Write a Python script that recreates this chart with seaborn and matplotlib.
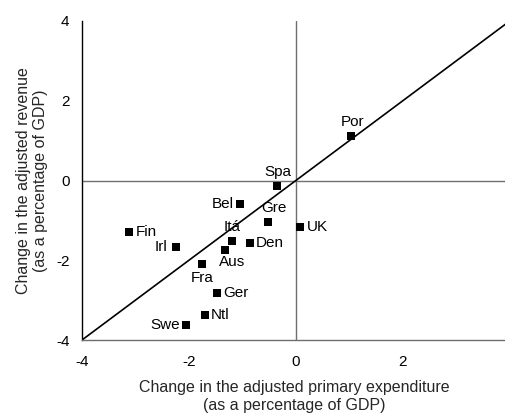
import matplotlib
matplotlib.use("Agg")
import matplotlib.pyplot as plt
import seaborn as sns
import pandas as pd

# Change in adjusted primary expenditure (x) and adjusted revenue (y), % of GDP
countries = ["Por", "Spa", "Bel", "Gre", "UK", "Fin", "Itá", "Den",
             "Irl", "Aus", "Fra", "Ger", "Ntl", "Swe"]
expenditure = [1.04, -0.36, -1.04, -0.52, 0.08, -3.12, -1.19, -0.85,
               -2.24, -1.32, -1.76, -1.47, -1.70, -2.06]
revenue = [1.12, -0.13, -0.58, -1.03, -1.16, -1.28, -1.51, -1.56,
           -1.68, -1.74, -2.09, -2.81, -3.37, -3.63]
ticks = [-4, -2, 0, 2, 4]

df = pd.DataFrame({"country": countries, "exp": expenditure, "rev": revenue})

# label placement: offset in points, horizontal / vertical alignment
label_pos = {
    "Por": (1, 5, "center", "bottom"),
    "Spa": (1, 5, "center", "bottom"),
    "Bel": (-5, 0, "right", "center"),
    "Gre": (4, 5, "center", "bottom"),
    "UK": (5, 0, "left", "center"),
    "Fin": (5, 0, "left", "center"),
    "Itá": (0, 5, "center", "bottom"),
    "Den": (4, 0, "left", "center"),
    "Irl": (-6, 0, "right", "center"),
    "Aus": (5, -4, "center", "top"),
    "Fra": (0, -5, "center", "top"),
    "Ger": (4, 0, "left", "center"),
    "Ntl": (4, 0, "left", "center"),
    "Swe": (-4, 0, "right", "center"),
}

sns.set_style("white")
plt.rcParams["font.family"] = ["Liberation Sans", "DejaVu Sans"]

fig = plt.figure(figsize=(5.06, 4.16), dpi=100)
ax = fig.add_axes([82 / 506, 1 - 340 / 416, 1 - 82 / 506, (340 - 21) / 416])

xmin, xmax = -4, 3.93
ymin, ymax = -4, 4

# reference lines through the origin
ax.axhline(0, color="#6e6e6e", lw=1.0, zorder=1)
ax.axvline(0, color="#6e6e6e", lw=1.0, zorder=1)
# 45-degree line
ax.plot([xmin, xmax], [xmin, xmax], color="black", lw=1.2, zorder=2)

sns.scatterplot(data=df, x="exp", y="rev", marker="s", s=30, color="black",
                edgecolor="black", linewidth=0, ax=ax, zorder=3)

for c, x, y in zip(countries, expenditure, revenue):
    dx, dy, ha, va = label_pos[c]
    ax.annotate(c, (x, y), xytext=(dx, dy), textcoords="offset points",
                ha=ha, va=va, fontsize=11, color="black")

ax.set_xlim(xmin, xmax)
ax.set_ylim(ymin, ymax)
ax.set_xticks(ticks[:-1])
ax.set_yticks(ticks)
ax.set_xticklabels([str(t) for t in ticks[:-1]])
ax.set_yticklabels([str(t) for t in ticks])
ax.tick_params(axis="both", length=0, labelsize=11, colors="black")
ax.tick_params(axis="x", pad=11)
ax.tick_params(axis="y", pad=9)

for side in ["top", "right"]:
    ax.spines[side].set_visible(False)
ax.spines["left"].set_color("black")
ax.spines["left"].set_linewidth(1.0)
ax.spines["bottom"].set_color("#6e6e6e")
ax.spines["bottom"].set_linewidth(1.0)

ax.set_xlabel("Change in the adjusted primary expenditure\n(as a percentage of GDP)",
              fontsize=11.5, labelpad=8, linespacing=1.2)
ax.set_ylabel("Change in the adjusted revenue\n(as a percentage of GDP)",
              fontsize=11.5, labelpad=6, linespacing=1.15)

fig.savefig("out.png", dpi=100)
